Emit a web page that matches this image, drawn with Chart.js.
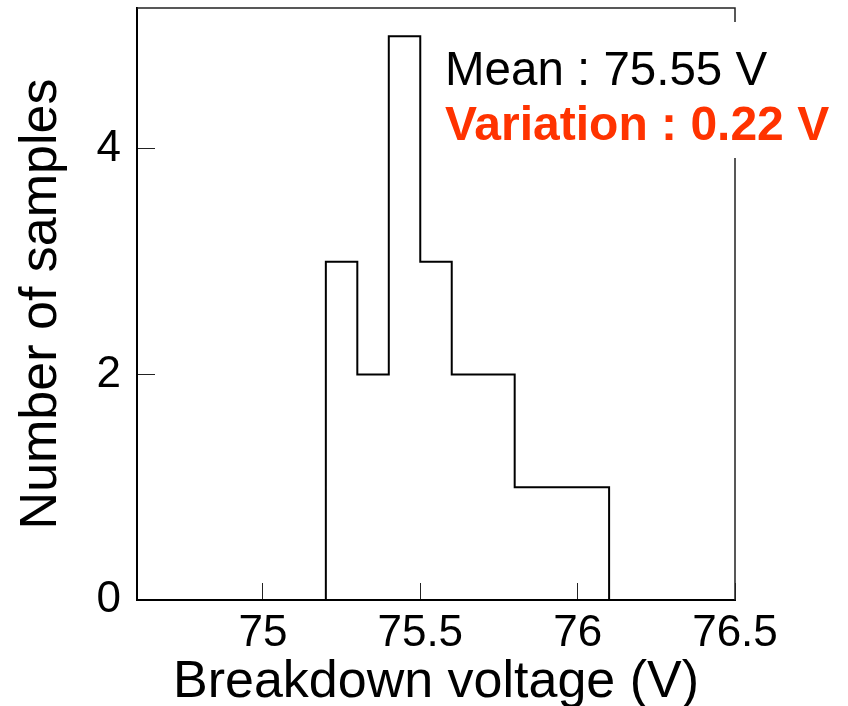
<!DOCTYPE html>
<html>
<head>
<meta charset="utf-8">
<script src="https://cdn.jsdelivr.net/npm/chart.js@4.4.1/dist/chart.umd.min.js"></script>
<style>
  html, body { margin: 0; padding: 0; background: #fff; }
  #wrap { width: 848px; height: 706px; }
</style>
</head>
<body>
<div id="wrap"><canvas id="hist" width="848" height="706"></canvas></div>
<script>
(function () {
    // bin edges (V) and sample counts per bin
    const binEdges = [75.2, 75.3, 75.4, 75.5, 75.6, 75.8, 76.1];
    const binCounts = [3, 2, 5, 3, 2, 1];
    const xTicks = [75, 75.5, 76, 76.5];
    const yTicks = [0, 2, 4];
    const meanLabel = 'Mean : 75.55 V';
    const variationLabel = 'Variation : 0.22 V';

    const FONT = '"Liberation Sans", Arial, sans-serif';

    // outline of the histogram: rise at the first edge, fall at the last
    const outline = [{ x: binEdges[0], y: 0 }];
    binCounts.forEach((count, i) => outline.push({ x: binEdges[i], y: count }));
    outline.push({ x: binEdges[binEdges.length - 1], y: 0 });

    const framePlugin = {
        id: 'frame',
        afterDraw(chart) {
            const { ctx, chartArea: a } = chart;
            ctx.save();
            ctx.strokeStyle = '#222';
            ctx.lineWidth = 1.5;
            ctx.beginPath();
            ctx.moveTo(a.left, a.top);
            ctx.lineTo(a.right, a.top);
            ctx.lineTo(a.right, a.bottom);
            ctx.stroke();

            // stats box sits over the top-right corner
            ctx.fillStyle = '#fff';
            ctx.fillRect(a.left + 291, a.top + 14, 848 - (a.left + 291), 136);
            ctx.textBaseline = 'alphabetic';
            ctx.textAlign = 'left';
            ctx.fillStyle = '#000';
            ctx.font = '47.5px ' + FONT;
            ctx.fillText(meanLabel, a.left + 308, a.top + 77);
            ctx.fillStyle = 'rgb(255, 51, 0)';
            ctx.font = 'bold 48px ' + FONT;
            ctx.fillText(variationLabel, a.left + 308, a.top + 132);
            ctx.restore();
        },
    };

    new Chart(document.getElementById('hist'), {
        type: 'line',
        data: {
            datasets: [{
                data: outline,
                stepped: 'before',
                borderColor: '#000',
                borderWidth: 2,
                pointRadius: 0,
                fill: false,
            }],
        },
        options: {
            responsive: false,
            animation: false,
            layout: { padding: { top: 8, right: 113, left: 0, bottom: 0 } },
            plugins: {
                legend: { display: false },
                tooltip: { enabled: false },
            },
            scales: {
                x: {
                    type: 'linear',
                    min: 74.6,
                    max: 76.5,
                    afterBuildTicks(scale) {
                        scale.ticks = xTicks.map((v) => ({ value: v }));
                    },
                    ticks: {
                        includeBounds: false,
                        maxRotation: 0,
                        padding: 24,
                        color: '#000',
                        font: { family: FONT, size: 44 },
                        callback: (v) => String(v),
                    },
                    grid: {
                        drawOnChartArea: false,
                        tickLength: -17,
                        tickWidth: 1,
                        tickColor: '#222',
                    },
                    border: { color: '#000', width: 2 },
                    title: {
                        display: true,
                        text: 'Breakdown voltage (V)',
                        color: '#000',
                        font: { family: FONT, size: 52, lineHeight: 1 },
                        padding: { top: 0, bottom: -3 },
                    },
                    afterFit(scale) {
                        scale.height = 106;
                        scale.paddingLeft = 0;
                        scale.paddingRight = 0;
                    },
                },
                y: {
                    min: 0,
                    max: 5.25,
                    afterBuildTicks(scale) {
                        scale.ticks = yTicks.map((v) => ({ value: v }));
                    },
                    ticks: {
                        includeBounds: false,
                        padding: 34,
                        color: '#000',
                        font: { family: FONT, size: 44 },
                    },
                    grid: {
                        drawOnChartArea: false,
                        tickLength: -18,
                        tickWidth: 1,
                        tickColor: '#222',
                    },
                    border: { color: '#000', width: 2 },
                    title: {
                        display: true,
                        text: 'Number of samples',
                        color: '#000',
                        font: { family: FONT, size: 52, lineHeight: 1 },
                        padding: { top: 16, bottom: 0 },
                    },
                    afterFit(scale) {
                        scale.width = 137;
                        scale.paddingTop = 0;
                        scale.paddingBottom = 0;
                    },
                },
            },
        },
        plugins: [framePlugin],
    });
})();
</script>
</body>
</html>
